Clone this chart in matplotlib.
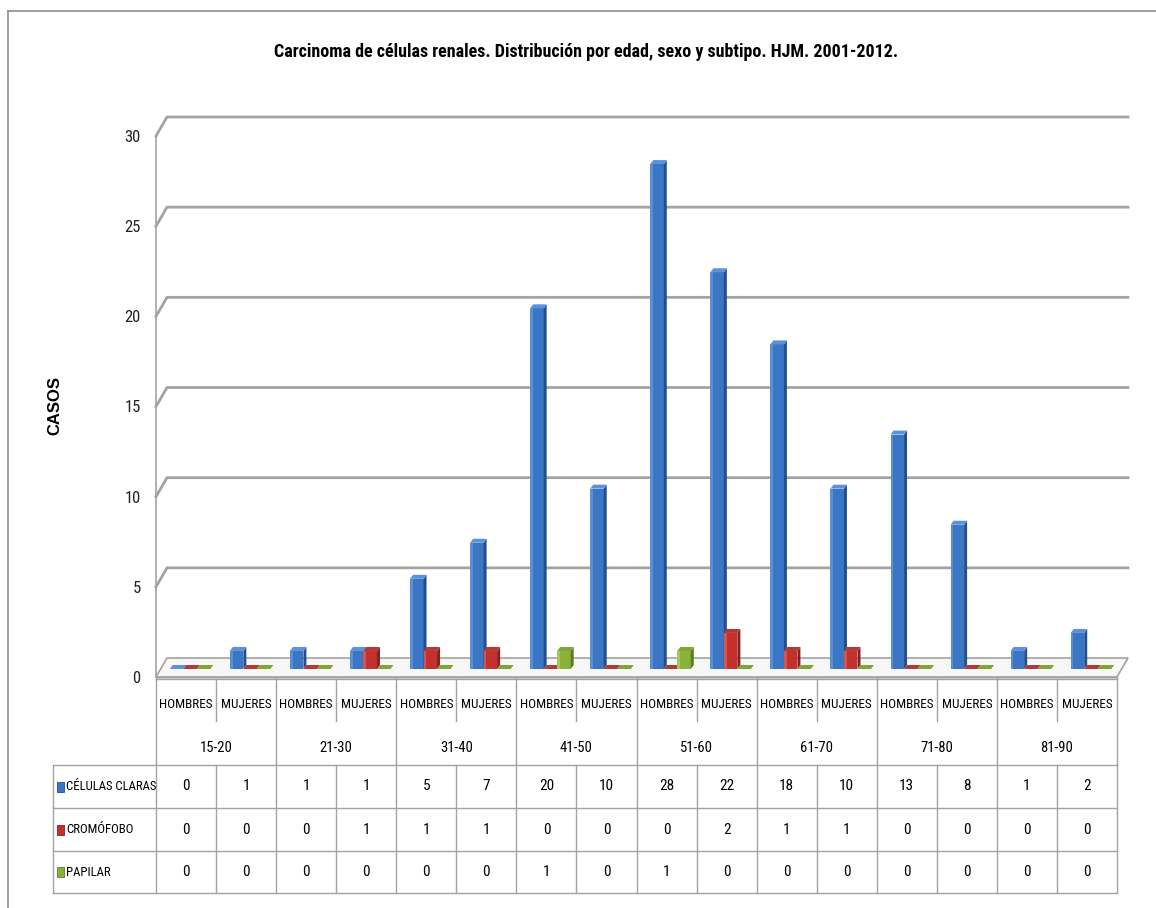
import matplotlib
matplotlib.use("Agg")
import matplotlib.pyplot as plt
from matplotlib.patches import Polygon, Rectangle
from matplotlib.lines import Line2D
from matplotlib.transforms import blended_transform_factory

plt.rcParams["font.family"] = ["Roboto Condensed", "Roboto", "DejaVu Sans"]

# datos
grupos_edad = ["15-20", "21-30", "31-40", "41-50", "51-60", "61-70", "71-80", "81-90"]
sexos = ["HOMBRES", "MUJERES"]
series = ["CÉLULAS CLARAS", "CROMÓFOBO", "PAPILAR"]
celulas_claras = [0, 1, 1, 1, 5, 7, 20, 10, 28, 22, 18, 10, 13, 8, 1, 2]
cromofobo = [0, 0, 0, 1, 1, 1, 0, 0, 0, 2, 1, 1, 0, 0, 0, 0]
papilar = [0, 0, 0, 0, 0, 0, 1, 0, 1, 0, 0, 0, 0, 0, 0, 0]
y_ticks = [0, 5, 10, 15, 20, 25, 30]

titulo = "Carcinoma de células renales. Distribución por edad, sexo y subtipo. HJM. 2001-2012."

# (frente, lado, tapa, brillo)
colores = [
    ("#3a76c4", "#22508e", "#5d92d8", "#5a8fd4"),
    ("#c4302c", "#842020", "#b03a36", "#d65450"),
    ("#88b23a", "#5c7c24", "#7ea538", "#a2c858"),
]

W, H = 1156, 908
fig = plt.figure(figsize=(W / 100, H / 100), dpi=100)

# ejes en pixeles de la figura
L, R, Y0, Y30 = 156, 1117, 677, 136
ax = fig.add_axes([L / W, (H - Y0) / H, (R - L) / W, (Y0 - Y30) / H])
n = len(celulas_claras)
ax.set_xlim(-0.5, n - 0.5)
ax.set_ylim(0, 30)
PX = n / (R - L)
PY = 30 / (Y0 - Y30)

gris = "#a3a3a3"
for s in ["top", "right", "bottom"]:
    ax.spines[s].set_visible(False)
ax.spines["left"].set_color(gris)
ax.spines["left"].set_linewidth(1.2)
ax.set_xticks([])
ax.set_yticks(y_ticks)
ax.tick_params(axis="y", length=0, pad=11, labelsize=12, colors="#222222")

# pared del fondo
DX, DY = 11 * PX, 19 * PY
xl, xr = -0.5, n - 0.5
for v in y_ticks[1:]:
    ax.plot([xl, xl + DX, xr + DX], [v, v + DY, v + DY], color=gris, lw=2, clip_on=False, zorder=1)

# suelo
ax.add_patch(Polygon([(xl, 0), (xr, 0), (xr + DX, DY), (xl + DX, DY)], closed=True,
                     facecolor="#f7f7f7", edgecolor=gris, lw=1.2, clip_on=False, zorder=1))
ax.add_patch(Polygon([(xl, 0), (xr, 0), (xr, -2 * PY), (xl, -2 * PY)], closed=True,
                     facecolor="#e0e0e0", edgecolor=gris, lw=1, clip_on=False, zorder=1))

# barras
w = 0.225
bx, by = 4 * PX, 8 * PY
tx, ty = 3 * PX, 4 * PY
for s, vals in enumerate([celulas_claras, cromofobo, papilar]):
    cf, cs, ct, cb = colores[s]
    xs = [i + (s - 1) * w - w / 2 + bx for i in range(n)]
    ax.bar(xs, vals, width=w, bottom=by, align="edge", color=cf, edgecolor="none", zorder=3 + s)
    ax.bar(xs, vals, width=w * 0.2, bottom=by, align="edge", color=cb, edgecolor="none", zorder=3 + s)
    for x0, v in zip(xs, vals):
        top = by + v
        ax.add_patch(Polygon([(x0 + w, by), (x0 + w + tx, by + ty), (x0 + w + tx, top + ty), (x0 + w, top)],
                             closed=True, facecolor=cs, edgecolor="none", zorder=3 + s))
        ax.add_patch(Polygon([(x0, top), (x0 + w, top), (x0 + w + tx, top + ty), (x0 + tx, top + ty)],
                             closed=True, facecolor=ct, edgecolor="none", zorder=3 + s))

# tabla de datos
tr = blended_transform_factory(ax.transData, fig.transFigure)


def fy(p):
    return 1 - p / H


def vline(x, p0, p1):
    ax.add_line(Line2D([x, x], [fy(p0), fy(p1)], transform=tr, color=gris, lw=1, clip_on=False))


def hline(x0, x1, p):
    ax.add_line(Line2D([x0, x1], [fy(p), fy(p)], transform=tr, color=gris, lw=1, clip_on=False))


x_tabla = (53 - L) * PX - 0.5
filas = [765, 808, 851, 893]

for g in range(len(grupos_edad) + 1):
    vline(-0.5 + 2 * g, Y0, filas[0])
for g in range(len(grupos_edad)):
    vline(0.5 + 2 * g, Y0 + 2, 721)
for k in range(n + 1):
    vline(-0.5 + k, filas[0], filas[-1])
vline(x_tabla, filas[0], filas[-1])
for p in filas:
    hline(x_tabla, xr, p)

for i in range(n):
    ax.text(i, fy(704), sexos[i % 2], transform=tr, ha="center", va="center", fontsize=9.5)
for g, etiqueta in enumerate(grupos_edad):
    ax.text(2 * g + 0.5, fy(748), etiqueta, transform=tr, ha="center", va="center", fontsize=10.5)

for s, (nombre, vals) in enumerate(zip(series, [celulas_claras, cromofobo, papilar])):
    yc = (filas[s] + filas[s + 1]) / 2
    fig.add_artist(Rectangle((57 / W, fy(yc + 5)), 7 / W, 10 / H, transform=fig.transFigure,
                             facecolor=colores[s][0], edgecolor=colores[s][1], lw=0.6))
    fig.text(66 / W, fy(yc), nombre, ha="left", va="center", fontsize=9.2)
    for i, v in enumerate(vals):
        ax.text(i, fy(yc), str(v), transform=tr, ha="center", va="center", fontsize=11)

# titulo y etiqueta del eje
fig.text(586 / W, fy(52), titulo, ha="center", va="center", fontsize=13, fontweight="bold")
fig.text(55 / W, fy(405), "CASOS", ha="center", va="center", rotation=90, fontsize=12,
         fontweight="bold", family=["Liberation Sans", "DejaVu Sans"])

# marco
fig.add_artist(Line2D([8 / W, 8 / W], [fy(11), 0], transform=fig.transFigure, color="#8c8c8c", lw=1.2))
fig.add_artist(Line2D([8 / W, 1], [fy(11), fy(11)], transform=fig.transFigure, color="#8c8c8c", lw=1.2))

fig.savefig("out.png", dpi=100, facecolor="white")
